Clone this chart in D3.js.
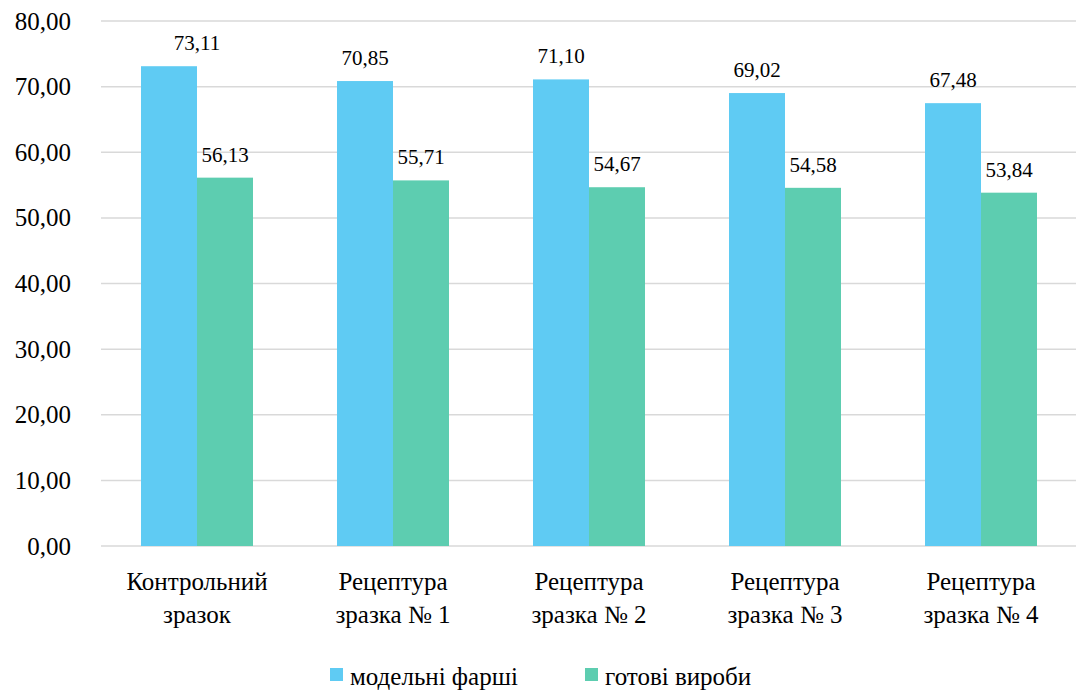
<!DOCTYPE html>
<html>
<head>
<meta charset="utf-8">
<script src="https://cdn.jsdelivr.net/npm/d3@7/dist/d3.min.js"></script>
</head>
<body style="margin:0">
<svg id="chart" width="1076" height="693" style="font-family: 'Times New Roman', Tinos, 'Liberation Serif', serif"></svg>
<script>
// Categories (two-line labels) and series
const categories = [
  ["Контрольний", "зразок"],
  ["Рецептура", "зразка № 1"],
  ["Рецептура", "зразка № 2"],
  ["Рецептура", "зразка № 3"],
  ["Рецептура", "зразка № 4"]
];
const seriesNames = ["модельні фарші", "готові вироби"];
const minced = [73.11, 70.85, 71.10, 69.02, 67.48];
const finished = [56.13, 55.71, 54.67, 54.58, 53.84];
const yTicks = [0, 10, 20, 30, 40, 50, 60, 70, 80];
const colors = ["#5fcbf3", "#5dcdb0"];

const FONT = "Times New Roman";
const fmt = v => d3.format(".2f")(v).replace(".", ",");

const svg = d3.select("#chart");
const catKeys = categories.map((c, i) => i);

const x = d3.scaleBand()
  .domain(catKeys)
  .range([99, 1079])
  .paddingInner(84 / 196)
  .paddingOuter(42 / 196);

const x1 = d3.scaleBand()
  .domain([0, 1])
  .range([0, x.bandwidth()]);

const y = d3.scaleLinear()
  .domain([0, 80])
  .range([546, 21]);

// Gridlines
svg.append("g")
  .selectAll("line")
  .data(yTicks)
  .join("line")
  .attr("x1", 101)
  .attr("x2", 1076)
  .attr("y1", d => y(d))
  .attr("y2", d => y(d))
  .attr("stroke", "#d9d9d9")
  .attr("stroke-width", 1.5);

// Y axis labels, drawn as plain text at the scale's tick positions
svg.append("g")
  .selectAll("text")
  .data(yTicks)
  .join("text")
  .attr("x", 71)
  .attr("y", d => y(d))
  .attr("dy", "0.34em")
  .attr("text-anchor", "end")
  .attr("font-family", FONT)
  .attr("font-size", 25)
  .attr("fill", "#000")
  .text(fmt);

// Bars
const series = [minced, finished];
const groups = svg.append("g")
  .selectAll("g")
  .data(catKeys)
  .join("g")
  .attr("transform", i => `translate(${x(i)},0)`);

groups.selectAll("rect")
  .data(i => series.map((s, k) => ({ k, v: s[i] })))
  .join("rect")
  .attr("x", d => x1(d.k))
  .attr("width", x1.bandwidth())
  .attr("y", d => y(d.v))
  .attr("height", d => y(0) - y(d.v))
  .attr("fill", d => colors[d.k]);

// Value labels (first label nudged right so it clears the neighbouring bar label)
const labelShift = (i, k) => (i === 0 && k === 0 ? 28 : 0);
groups.selectAll("text.val")
  .data(i => series.map((s, k) => ({ i, k, v: s[i] })))
  .join("text")
  .attr("class", "val")
  .attr("x", d => x1(d.k) + x1.bandwidth() / 2 + labelShift(d.i, d.k))
  .attr("y", d => y(d.v) - 16)
  .attr("text-anchor", "middle")
  .attr("font-family", FONT)
  .attr("font-size", 21)
  .attr("fill", "#000")
  .text(d => fmt(d.v));

// Category labels
const xLabels = svg.append("g")
  .selectAll("text")
  .data(catKeys)
  .join("text")
  .attr("x", i => x(i) + x.bandwidth() / 2)
  .attr("y", 590)
  .attr("text-anchor", "middle")
  .attr("font-family", FONT)
  .attr("font-size", 25)
  .attr("fill", "#000");
xLabels.selectAll("tspan")
  .data(i => categories[i])
  .join("tspan")
  .attr("x", function () { return d3.select(this.parentNode).attr("x"); })
  .attr("dy", (d, j) => j === 0 ? 0 : 33)
  .text(d => d);

// Legend
const legendItems = [
  { name: seriesNames[0], color: colors[0], x: 330 },
  { name: seriesNames[1], color: colors[1], x: 585 }
];
const lg = svg.append("g")
  .selectAll("g")
  .data(legendItems)
  .join("g")
  .attr("transform", d => `translate(${d.x},0)`);
lg.append("rect")
  .attr("x", 0).attr("y", 668)
  .attr("width", 13).attr("height", 13)
  .attr("fill", d => d.color);
lg.append("text")
  .attr("x", 20).attr("y", 685)
  .attr("font-family", FONT)
  .attr("font-size", 25)
  .attr("fill", "#000")
  .text(d => d.name);
</script>
</body>
</html>
